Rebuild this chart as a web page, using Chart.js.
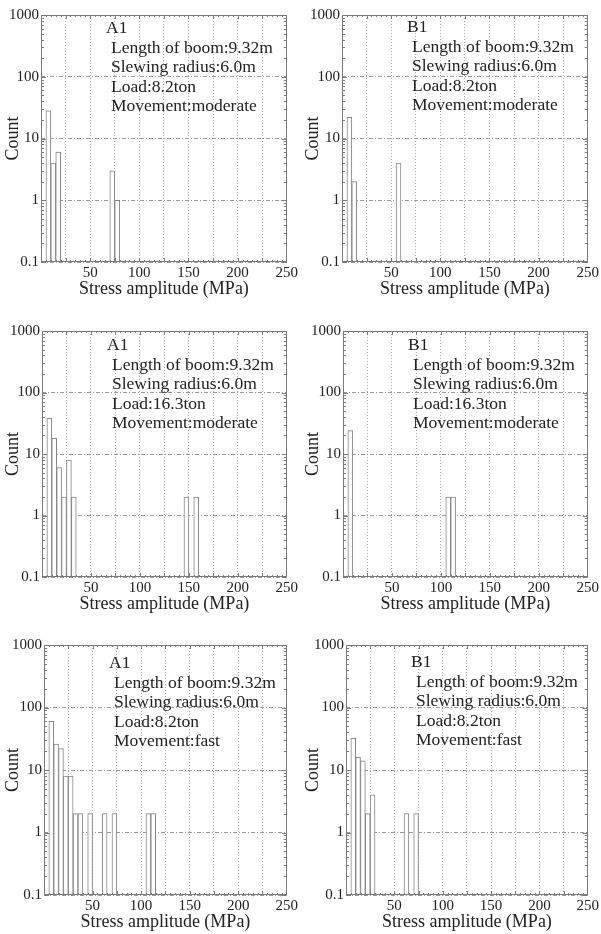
<!DOCTYPE html>
<html>
<head>
<meta charset="utf-8">
<title>Stress amplitude histograms</title>
<script src="https://cdn.jsdelivr.net/npm/chart.js@4.4.1/dist/chart.umd.min.js"></script>
<style>
  html, body { margin: 0; padding: 0; background: #fff; }
  #page { position: relative; width: 601px; height: 934px; overflow: hidden; }
  .panel { position: absolute; }
  .note {
    position: absolute;
    font-family: 'Liberation Serif', serif;
    font-size: 17.5px;
    line-height: 19.5px;
    color: #222;
    white-space: nowrap;
  }
  .note .body { padding-left: 5px; }
</style>
</head>
<body>
<div id="page"></div>
<script>
const SERIF = "'Liberation Serif', serif";
const TEXT_COLOR = '#222';
const FRAME_COLOR = '#7a7a7a';
const BAR_BORDER = '#858585';
const TITLE_GAP = 27; // axis line -> centre of x title

// tick labels
const countTicks = [0.1, 1, 10, 100, 1000];
const stressLabelTicks = [50, 100, 150, 200, 250];

// shared annotation lines
const boomLength = 'Length of boom:9.32m';
const slewingRadius = 'Slewing radius:6.0m';

// histogram bins (centre of each 5 MPa bin) and counts
const a1ModerateLightStress = [7.5, 12.5, 17.5, 72.5, 77.5];
const a1ModerateLightCount = [28, 4, 6, 3, 1];

const b1ModerateLightStress = [7.5, 12.5, 57.5];
const b1ModerateLightCount = [22, 2, 4];

const a1ModerateHeavyStress = [7.5, 12.5, 17.5, 22.5, 27.5, 32.5, 147.5, 157.5];
const a1ModerateHeavyCount = [38, 18, 6, 2, 8, 2, 2, 2];

const b1ModerateHeavyStress = [7.5, 107.5, 112.5];
const b1ModerateHeavyCount = [24, 2, 2];

const a1FastLightStress = [7.5, 12.5, 17.5, 22.5, 27.5, 32.5, 37.5, 47.5, 62.5, 72.5, 107.5, 112.5];
const a1FastLightCount = [60, 26, 22, 8, 8, 2, 2, 2, 2, 2, 2, 2];

const b1FastLightStress = [7.5, 12.5, 17.5, 22.5, 27.5, 62.5, 72.5];
const b1FastLightCount = [32, 16, 14, 2, 4, 2, 2];

const panels = [
  {
    gauge: 'A1', load: 'Load:8.2ton', movement: 'Movement:moderate',
    stress: a1ModerateLightStress, count: a1ModerateLightCount,
    canvas: { x: 0, y: 0, w: 300, h: 310 }, plot: { x: 41, y: 15, w: 248, h: 247 }, note: { x: 106, y: 18 },
  },
  {
    gauge: 'B1', load: 'Load:8.2ton', movement: 'Movement:moderate',
    stress: b1ModerateLightStress, count: b1ModerateLightCount,
    canvas: { x: 300, y: 0, w: 301, h: 310 }, plot: { x: 342, y: 15, w: 248, h: 247 }, note: { x: 407, y: 17 },
  },
  {
    gauge: 'A1', load: 'Load:16.3ton', movement: 'Movement:moderate',
    stress: a1ModerateHeavyStress, count: a1ModerateHeavyCount,
    canvas: { x: 0, y: 310, w: 300, h: 310 }, plot: { x: 42, y: 331, w: 248, h: 246 }, note: { x: 107, y: 335 },
  },
  {
    gauge: 'B1', load: 'Load:16.3ton', movement: 'Movement:moderate',
    stress: b1ModerateHeavyStress, count: b1ModerateHeavyCount,
    canvas: { x: 300, y: 310, w: 301, h: 310 }, plot: { x: 343, y: 331, w: 248, h: 246 }, note: { x: 408, y: 335 },
  },
  {
    gauge: 'A1', load: 'Load:8.2ton', movement: 'Movement:fast',
    stress: a1FastLightStress, count: a1FastLightCount,
    canvas: { x: 0, y: 620, w: 300, h: 314 }, plot: { x: 44, y: 645, w: 249, h: 250 }, note: { x: 109, y: 653 },
  },
  {
    gauge: 'B1', load: 'Load:8.2ton', movement: 'Movement:fast',
    stress: b1FastLightStress, count: b1FastLightCount,
    canvas: { x: 300, y: 620, w: 301, h: 314 }, plot: { x: 346, y: 645, w: 249, h: 250 }, note: { x: 411, y: 652 },
  },
];

// box round the plot plus the small inward ticks on all four sides
const frameTicks = {
  id: 'frameTicks',
  afterDatasetsDraw(chart) {
    const { ctx, chartArea: area } = chart;
    const xScale = chart.scales.x;
    const yScale = chart.scales.y;
    ctx.save();
    ctx.strokeStyle = FRAME_COLOR;
    ctx.lineWidth = 1;
    ctx.beginPath();
    for (let v = 5; v < 250; v += 5) {
      const px = Math.round(xScale.getPixelForValue(v)) + 0.5;
      const len = v % 25 === 0 ? 4 : 2;
      ctx.moveTo(px, area.bottom);
      ctx.lineTo(px, area.bottom - len);
      ctx.moveTo(px, area.top);
      ctx.lineTo(px, area.top + len);
    }
    for (let e = -1; e < 3; e++) {
      for (let m = 1; m < 10; m++) {
        const py = Math.round(yScale.getPixelForValue(m * Math.pow(10, e))) + 0.5;
        const len = m === 1 ? 5 : 3;
        ctx.moveTo(area.left, py);
        ctx.lineTo(area.left + len, py);
        ctx.moveTo(area.right, py);
        ctx.lineTo(area.right - len, py);
      }
    }
    ctx.stroke();
    ctx.strokeRect(
      Math.round(area.left) + 0.5,
      Math.round(area.top) + 0.5,
      Math.round(area.right - area.left) - 1,
      Math.round(area.bottom - area.top) - 1,
    );
    ctx.restore();
  },
};

function addNote(page, panel) {
  const note = document.createElement('div');
  note.className = 'note';
  note.style.left = panel.note.x + 'px';
  note.style.top = panel.note.y + 'px';

  const head = document.createElement('div');
  head.textContent = panel.gauge;
  note.appendChild(head);

  const body = document.createElement('div');
  body.className = 'body';
  [boomLength, slewingRadius, panel.load, panel.movement].forEach((line) => {
    const row = document.createElement('div');
    row.textContent = line;
    body.appendChild(row);
  });
  note.appendChild(body);
  page.appendChild(note);
}

function createPanel(page, panel) {
  const { canvas: box, plot } = panel;
  const holder = document.createElement('div');
  holder.className = 'panel';
  holder.style.left = box.x + 'px';
  holder.style.top = box.y + 'px';
  const canvas = document.createElement('canvas');
  canvas.width = box.w;
  canvas.height = box.h;
  canvas.style.width = box.w + 'px';
  canvas.style.height = box.h + 'px';
  holder.appendChild(canvas);
  page.appendChild(holder);

  const yAxisWidth = plot.x - box.x;
  const xAxisHeight = box.y + box.h - (plot.y + plot.h);
  const titleLine = 18 * 1.2;

  new Chart(canvas, {
    type: 'bar',
    data: {
      datasets: [{
        data: panel.stress.map((s, i) => ({ x: s, y: panel.count[i] })),
        backgroundColor: '#ffffff',
        borderColor: BAR_BORDER,
        borderWidth: 1,
        borderSkipped: false,
        categoryPercentage: 1,
        barPercentage: 1,
      }],
    },
    options: {
      responsive: false,
      animation: false,
      events: [],
      layout: {
        padding: {
          left: 0,
          top: plot.y - box.y,
          right: box.w - yAxisWidth - plot.w,
          bottom: 0,
        },
      },
      plugins: {
        legend: { display: false },
        tooltip: { enabled: false },
      },
      scales: {
        x: {
          type: 'linear',
          min: 0,
          max: 250,
          offset: false,
          afterFit(scale) {
            scale.height = xAxisHeight;
          },
          grid: {
            offset: false,
            color: '#a8a8a8',
            lineWidth: 1,
            drawTicks: false,
          },
          border: { display: false, dash: [1, 2] },
          ticks: {
            stepSize: 25,
            autoSkip: false,
            maxRotation: 0,
            padding: 2,
            color: TEXT_COLOR,
            font: { family: SERIF, size: 15 },
            callback(value) {
              return stressLabelTicks.includes(value) ? String(value) : '';
            },
          },
          title: {
            display: true,
            text: 'Stress amplitude (MPa)',
            color: TEXT_COLOR,
            font: { family: SERIF, size: 18 },
            padding: { top: 0, bottom: xAxisHeight - TITLE_GAP - titleLine / 2 },
          },
        },
        y: {
          type: 'logarithmic',
          min: 0.1,
          max: 1000,
          afterFit(scale) {
            scale.width = yAxisWidth;
          },
          afterBuildTicks(scale) {
            scale.ticks = countTicks.map((value) => ({ value }));
          },
          grid: {
            color: '#9a9a9a',
            lineWidth: 1,
            drawTicks: false,
          },
          border: { display: false, dash: [4, 2, 1, 2] },
          ticks: {
            autoSkip: false,
            padding: 2,
            color: TEXT_COLOR,
            font: { family: SERIF, size: 15 },
            callback(value) {
              return String(value);
            },
          },
          title: {
            display: true,
            text: 'Count',
            color: TEXT_COLOR,
            font: { family: SERIF, size: 18 },
            padding: { top: 2, bottom: 0 },
          },
        },
      },
    },
    plugins: [frameTicks],
  });

  addNote(page, panel);
}

const page = document.getElementById('page');
panels.forEach((panel) => createPanel(page, panel));
</script>
</body>
</html>
